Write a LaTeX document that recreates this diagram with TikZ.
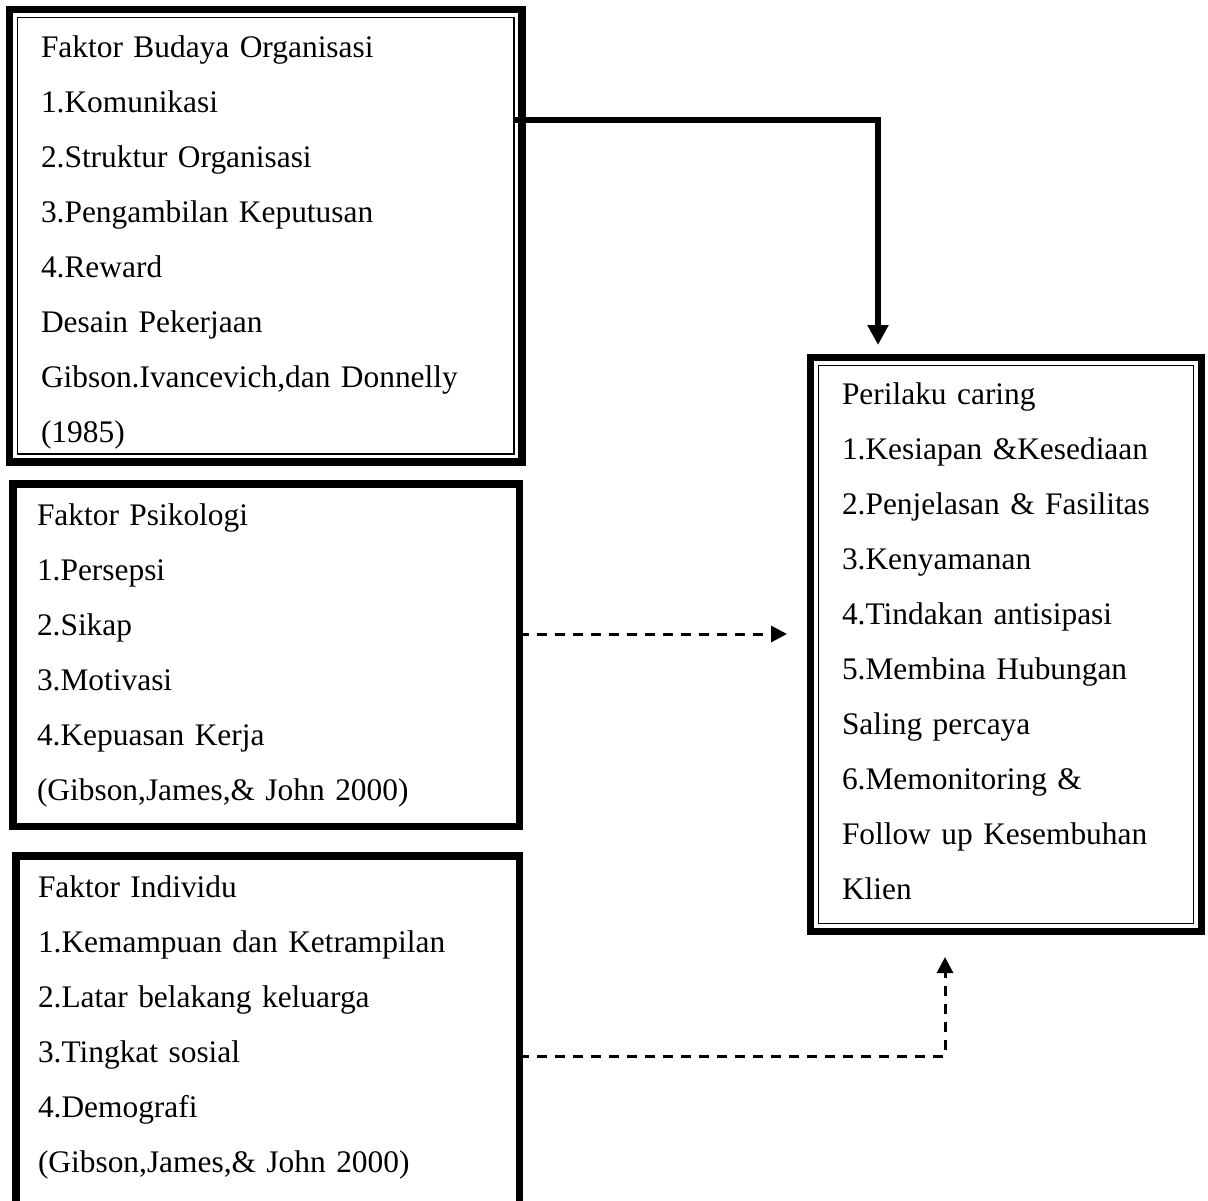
\documentclass[tikz,border=0pt]{standalone}
\usepackage{fontspec}
\setmainfont{Liberation Serif}
\usepackage{tikz}
\usetikzlibrary{arrows.meta}

\tikzset{
	faktor/.style={draw, anchor=north west, align=left, outer sep=0pt, inner ysep=0pt,
		font=\fontsize{15.7}{27.5}\selectfont},
	thinframe/.style={faktor, line width=0.75pt},
	thickframe/.style={faktor, line width=3.75pt},
	outerline/.style={line width=3.75pt},
	solidarrow/.style={line width=3pt, -{Triangle[width=10pt,length=10pt]}},
	dasharrow/.style={line width=1.5pt, dash pattern=on 5pt off 4pt, -{Triangle[width=8pt,length=8pt]}}
}

\begin{document}
\begin{tikzpicture}[x=0.5pt,y=-0.5pt]
\useasboundingbox (0,0) rectangle (1208,1200);

\node[thinframe, inner xsep=11.75pt, text width=224.75pt, text height=19.75pt, text depth=198.5pt]
	(budaya) at (17.5,17.5) {Faktor Budaya Organisasi\\1.Komunikasi\\2.Struktur Organisasi\\3.Pengambilan Keputusan\\4.Reward\\Desain Pekerjaan\\Gibson.Ivancevich,dan Donnelly\\(1985)};
\node[thickframe, inner xsep=12.125pt, text width=229pt, text height=20.625pt, text depth=150.625pt]
	(psikologi) at (12.75,483.75) {Faktor Psikologi\\1.Persepsi\\2.Sikap\\3.Motivasi\\4.Kepuasan Kerja\\(Gibson,James,\& John 2000)};
\node[thickframe, inner xsep=11.125pt, text width=229.5pt, text height=20.625pt, text depth=166.5pt]
	(individu) at (15.75,855.75) {Faktor Individu\\1.Kemampuan dan Ketrampilan\\2.Latar belakang keluarga\\3.Tingkat sosial\\4.Demografi\\(Gibson,James,\& John 2000)};
\node[thinframe, inner xsep=11.75pt, text width=164pt, text height=19.25pt, text depth=259.75pt]
	(perilaku) at (818.5,365.5) {Perilaku caring\\1.Kesiapan \&Kesediaan\\2.Penjelasan \& Fasilitas\\3.Kenyamanan\\4.Tindakan antisipasi\\5.Membina Hubungan\\Saling percaya\\6.Memonitoring \&\\Follow up Kesembuhan\\Klien};

\foreach \n in {budaya,perilaku}
{
	\draw[outerline] ([xshift=-4pt,yshift=4pt]\n.north west) rectangle ([xshift=4pt,yshift=-4pt]\n.south east);
}

\coordinate (budout) at ([yshift=-51.25pt]budaya.north east);
\coordinate (psiout) at ([yshift=-75.125pt]psikologi.north east);
\coordinate (indout) at ([yshift=-100.125pt]individu.north east);

\draw[solidarrow] (budout) -| ([xshift=29.75pt,yshift=10.25pt]perilaku.north west);
\draw[dasharrow, shorten >=15.75pt] (psiout) -- (psiout -| perilaku.west);
\draw[dasharrow] (indout) -| ([xshift=63.25pt,yshift=-16.75pt]perilaku.south west);
\end{tikzpicture}
\end{document}
